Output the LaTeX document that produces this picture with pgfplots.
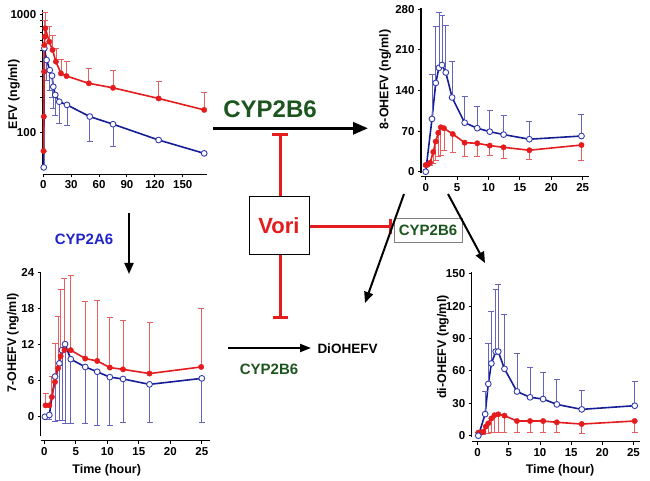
\documentclass[border=0pt]{standalone}
\usepackage{fontspec}
\setmainfont{Liberation Sans}
\usepackage{pgfplots}
\pgfplotsset{compat=1.18}
\usetikzlibrary{arrows.meta}
\definecolor{cred}{RGB}{228,28,30}
\definecolor{cerrr}{RGB}{228,95,95}
\definecolor{cblue}{RGB}{22,30,150}
\definecolor{cbluem}{RGB}{50,60,175}
\definecolor{cerrb}{RGB}{100,100,190}
\definecolor{cgreen}{RGB}{28,85,30}
\definecolor{c2a6}{RGB}{30,35,200}
\newcommand\tickfont{\fontsize{11.5}{12}\selectfont\bfseries}
\newcommand\labfont{\fontsize{12.5}{13}\selectfont\bfseries}
\pgfplotsset{
 panel/.style={scale only axis, axis lines=left, axis line style={-,line width=1.3pt},
   tick align=outside, major tick length=3pt, tick style={line width=1pt,black},
   ticklabel style={font=\tickfont}, clip=false,
   /pgf/number format/assume math mode=true},
 redl/.style={color=cred, line width=1.6pt, mark=*, mark size=2.7pt,
   mark options={fill=cred,draw=cred,line width=0.4pt,solid},
   error bars/y dir=#1, error bars/y explicit,
   error bars/error bar style={line width=0.8pt,color=cerrr},
   error bars/error mark options={line width=0.8pt,color=cerrr,mark size=3pt,rotate=90}},
 bluel/.style={color=cblue, line width=1.6pt, mark=*, mark size=2.9pt,
   mark options={fill=white,draw=cbluem,line width=0.9pt,solid},
   error bars/y dir=#1, error bars/y explicit,
   error bars/error bar style={line width=0.8pt,color=cerrb},
   error bars/error mark options={line width=0.8pt,color=cerrb,mark size=3pt,rotate=90}},
}
\begin{document}
\begin{tikzpicture}[x=1pt,y=1pt]
\useasboundingbox (0,0) rectangle (650,481);
% ---------- EFV ----------
\begin{axis}[panel, at={(42.7pt,311pt)}, anchor=south west, width=164pt, height=160pt,
  ymode=log, xmin=-0.6, xmax=175.7, ymin=48.3, ymax=1096,
  axis x line shift=4.3pt,
  xtick={0,30,60,90,120,150}, ytick={100,1000}, yticklabels={100,1000},
  ylabel={EFV (ng/ml)},
  ylabel style={at={(axis description cs:-0.175,0.472)}, anchor=center, font=\labfont}]
\addplot[bluel=minus] table[x=t,y=v,y error=e] {
t v e
0.5 50.8 0
1.2 519 189
3.6 413 133
7 339 109
9.4 304 104
10.8 245 85
12.9 209 68
17.2 183 63
25.5 172 56
50 137 53
75 118 42
124 86.7 0
173 66.8 0
};
\addplot[redl=plus] table[x=t,y=v,y error=e] {
t v e
0.3 70 0
0.6 137 0
0.9 329 0
1.2 553 0
1.6 650 250
2.2 767 270
6.5 590 200
10 502 160
13.6 400 120
19 318 100
25 302 100
49 262 89
75 240 100
124 195 79
173 156 62
};
\end{axis}
% ---------- 8-OHEFV ----------
\begin{axis}[panel, at={(421pt,307.5pt)}, anchor=south west, width=168pt, height=165pt,
  xmin=-0.75, xmax=26, ymin=-3.1, ymax=281.4,
  axis x line shift=3.2pt,
  xtick={0,5,...,25}, ytick={0,70,140,210,280},
  ylabel={8-OHEFV (ng/ml)},
  ylabel style={at={(axis description cs:-0.214,0.57)}, anchor=center, font=\labfont}]
\addplot[redl=minus] table[x=t,y=v,y error=e] {
t v e
0 11.5 3
0.3 12 2
0.7 15.5 5
1.2 34 20
1.6 52 32
2.0 67 41
2.4 76.5 48
2.9 75 39
4.3 65 31
6.2 50 24
8.2 49 22
10.2 45 17
12.4 42 19
16.5 37 16
24.8 46 27
};
\addplot[bluel=plus] table[x=t,y=v,y error=e] {
t v e
0 0 0
1 91 76
1.6 153 97
2.1 179 95
2.6 184 85
3.2 171 82
4.2 128 63
6.2 84.5 44.5
8.2 75 37
10.2 69 37
12.4 64 33
16.5 56 30
24.8 61.5 38
};
\end{axis}
% ---------- 7-OHEFV ----------
\begin{axis}[panel, at={(40.7pt,45pt)}, anchor=south west, width=169.3pt, height=164.3pt,
  xmin=-0.57, xmax=26.3, ymin=-3.2, ymax=24.17,
  axis x line shift=4.7pt,
  xtick={0,5,...,25}, ytick={0,6,12,18,24},
  ylabel={7-OHEFV (ng/ml)}, xlabel={Time (hour)},
  ylabel style={at={(axis description cs:-0.164,0.566)}, anchor=center, font=\labfont},
  xlabel style={at={(axis description cs:0.39,-0.211)}, anchor=center, font=\labfont}]
\addplot[bluel=minus] table[x=t,y=v,y error=e] {
t v e
0.1 0 0
0.8 0.3 0.8
1.7 6.7 7.4
2.4 8.9 9.5
2.8 11.1 11.7
3.3 12.1 13.2
4.2 9.6 10.7
6.5 8.3 9.4
8.4 7.5 9.0
10.4 6.6 8.0
12.5 6.3 7.3
16.7 5.4 6.4
25.0 6.4 7.4
};
\addplot[redl=plus] table[x=t,y=v,y error=e] {
t v e
0.2 1.9 2.0
0.8 1.9 0
1.2 3.3 3.5
1.7 5.8 6.4
2.2 8.1 8.7
2.6 10.1 11.1
3.2 11.1 12.0
4.2 11.1 12.5
6.5 9.7 9.6
8.4 9.3 10.1
10.4 8.2 8.3
12.5 7.9 8.2
16.7 7.2 8.5
24.9 8.3 9.8
};
\end{axis}
% ---------- di-OHEFV ----------
\begin{axis}[panel, at={(471.7pt,43.7pt)}, anchor=south west, width=168.3pt, height=165.6pt,
  xmin=-0.96, xmax=26.05, ymin=-1.5, ymax=152.1,
  axis x line shift=4.4pt,
  xtick={0,5,...,25}, ytick={0,30,60,90,120,150},
  ylabel={di-OHEFV (ng/ml)}, xlabel={Time (hour)},
  ylabel style={at={(axis description cs:-0.171,0.545)}, anchor=center, font=\labfont},
  xlabel style={at={(axis description cs:0.525,-0.202)}, anchor=center, font=\labfont}]
\addplot[redl=minus] table[x=t,y=v,y error=e] {
t v e
0.1 2.8 0
0.5 2.8 0
0.9 3.7 2.7
1.3 8.4 6.4
1.7 11.4 9.4
2.2 16 13
2.7 19 16
3.3 19.8 16.8
4.3 18.6 15.6
6.3 13.6 10.6
8.4 13.6 10.6
10.5 13.6 10.6
12.7 12.4 9.4
16.7 10.8 8.3
25.2 13.6 10.6
};
\addplot[bluel=plus] table[x=t,y=v,y error=e] {
t v e
0.1 0 0
1.2 20 21
1.7 48 38
2.2 67 48
2.9 78 58
3.3 78 62
4.3 62 50.6
6.3 41 35.4
8.4 35.6 27.8
10.5 34 24.5
12.7 29 23.6
16.7 24.4 17.4
25.2 27.8 22.9
};
\end{axis}
% ---------- diagram ----------
\node[font=\fontsize{24}{26}\selectfont\bfseries, text=cgreen] at (270,372) {CYP2B6};
\draw[line width=3pt, -{Triangle[length=15pt,width=12pt]}] (213,352.7) -- (368,352.7);
\draw[cred, line width=3pt] (280,284) -- (280,346);
\draw[cred, line width=3pt] (272,346) -- (288,346);
\draw[cred, line width=3pt] (309,254.3) -- (390,254.3);
\draw[cred, line width=3pt] (390,246.5) -- (390,262);
\draw[cred, line width=3pt] (280,226) -- (280,163.3);
\draw[cred, line width=3pt] (272.5,163.3) -- (287.5,163.3);
\draw[line width=1pt, fill=white] (249,226) rectangle (309,284);
\node[font=\fontsize{22}{24}\selectfont\bfseries, text=cred] at (279,255) {Vori};
\draw[line width=0.8pt, draw=gray] (394,239) rectangle (462,263);
\node[font=\fontsize{15}{16}\selectfont\bfseries, text=cgreen] at (428,251) {CYP2B6};
\draw[line width=2pt, -{Triangle[length=11pt,width=9pt]}] (404,287) -- (365,178);
\draw[line width=2pt, -{Triangle[length=11pt,width=9pt]}] (448,287) -- (485,218);
\draw[line width=2pt, -{Triangle[length=11pt,width=9pt]}] (129,268) -- (129,207);
\node[font=\fontsize{15}{16}\selectfont\bfseries, text=c2a6] at (84,242) {CYP2A6};
\draw[line width=2pt, -{Triangle[length=11pt,width=8pt]}] (228,133) -- (311,133);
\node[font=\fontsize{13.5}{15}\selectfont\bfseries] at (347.5,132.5) {DiOHEFV};
\node[font=\fontsize{15}{16}\selectfont\bfseries, text=cgreen] at (269,112) {CYP2B6};
\end{tikzpicture}
\end{document}
